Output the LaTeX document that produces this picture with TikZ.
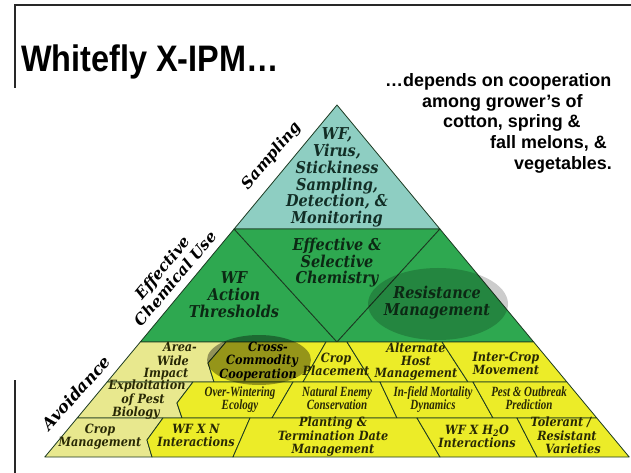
\documentclass[tikz,border=0pt]{standalone}
\usepackage{fontspec}
\usepackage{graphicx}
\setmainfont{DejaVu Serif}
\newfontfamily\sansf{Liberation Sans}
\newfontfamily\bkf{DejaVu Serif}
\newfontfamily\tmf{Liberation Serif}
\definecolor{teal1}{RGB}{142,206,194}
\definecolor{green1}{RGB}{46,168,80}
\definecolor{yel}{RGB}{236,236,40}
\definecolor{pale}{RGB}{232,232,142}
\definecolor{edgec}{RGB}{28,58,34}
\definecolor{ttxt}{RGB}{18,46,38}
\definecolor{gtxt}{RGB}{12,40,20}
\definecolor{ytxt}{RGB}{40,40,5}
\definecolor{framec}{RGB}{40,40,40}
\newcommand{\fsz}[2]{\fontsize{#1}{#2}\selectfont}
\newcommand{\tx}[2][1]{\scalebox{#1}[1.13]{\begin{tabular}{@{}c@{}}#2\end{tabular}}}
\begin{document}
\begin{tikzpicture}[x=1bp,y=-1bp,
  cell/.style={draw=edgec,line width=0.8bp,line join=round},
  bk/.style={font=\bkf\bfseries\itshape\fsz{14.5}{13}, inner sep=0pt},
  ybk/.style={font=\bkf\bfseries\itshape\fsz{11.3}{10.8}, inner sep=0pt, text=ytxt},
  ytm/.style={font=\tmf\bfseries\itshape\fsz{12.5}{9.5}, inner sep=0pt, text=ytxt},
  side/.style={font=\bkf\bfseries\itshape\fsz{15.5}{17}, align=center, inner sep=0pt, text=black},
  sub/.style={font=\sansf\bfseries\fsz{18}{18}, anchor=base west, inner sep=0pt},
  framel/.style={draw=framec,line width=1.3bp}
]
\useasboundingbox (0,0) rectangle (631,473);
% frame
\draw[framel] (15,88) -- (15,5) -- (631,5);
\draw[framel] (15,380) -- (15,473);
% title
\node[anchor=base west, inner sep=0pt, font=\sansf\bfseries\fsz{37}{37}] (title) at (21,72) {\scalebox{0.88}[1]{Whitefly X-IPM…}};
\node[sub] (s1) at (385,87) {…depends on cooperation};
\node[sub] (s2) at (422,108) {among grower’s of};
\node[sub] (s3) at (443,128) {cotton, spring \&};
\node[sub] (s4) at (490,149) {fall melons, \&};
\node[sub] (s5) at (514,170) {vegetables.};
% pyramid: teal
\draw[cell,fill=teal1] (337,105) -- (234.1,229) -- (439.9,229) -- cycle;
% green
\draw[cell,fill=green1] (234.1,229) -- (337,342) -- (140.3,342) -- cycle;
\draw[cell,fill=green1] (234.1,229) -- (439.9,229) -- (337,342) -- cycle;
\draw[cell,fill=green1] (439.9,229) -- (533.7,342) -- (337,342) -- cycle;
% row 1
\draw[cell,fill=pale] (140.3,342) -- (226,342) -- (208,363) -- (214,382) -- (107.1,382) -- cycle;
\draw[cell,fill=yel] (226,342) -- (326,342) -- (303,382) -- (214,382) -- (208,363) -- cycle;
\draw[cell,fill=yel] (326,342) -- (347,342) -- (372,382) -- (303,382) -- cycle;
\draw[cell,fill=yel] (347,342) -- (442,342) -- (468,382) -- (372,382) -- cycle;
\draw[cell,fill=yel] (442,342) -- (533.7,342) -- (566.9,382) -- (468,382) -- cycle;
% row 2
\draw[cell,fill=pale] (107.1,382) -- (193,382) -- (177,403) -- (182,418) -- (77.2,418) -- cycle;
\draw[cell,fill=yel] (193,382) -- (293,382) -- (272,418) -- (182,418) -- (177,403) -- cycle;
\draw[cell,fill=yel] (293,382) -- (380,382) -- (397,418) -- (272,418) -- cycle;
\draw[cell,fill=yel] (380,382) -- (473,382) -- (493,418) -- (397,418) -- cycle;
\draw[cell,fill=yel] (473,382) -- (566.9,382) -- (596.8,418) -- (493,418) -- cycle;
% row 3
\draw[cell,fill=pale] (77.2,418) -- (163,418) -- (147,440) -- (152,457) -- (44.8,457) -- cycle;
\draw[cell,fill=yel] (163,418) -- (250,418) -- (233,457) -- (152,457) -- (147,440) -- cycle;
\draw[cell,fill=yel] (250,418) -- (417,418) -- (440,457) -- (233,457) -- cycle;
\draw[cell,fill=yel] (417,418) -- (517,418) -- (537,457) -- (440,457) -- cycle;
\draw[cell,fill=yel] (517,418) -- (596.8,418) -- (629.2,457) -- (537,457) -- cycle;
% highlight ellipses
\fill[black,opacity=0.2] (438,304) ellipse [x radius=70, y radius=36];
\fill[black,opacity=0.37] (259,360) ellipse [x radius=52, y radius=25];
% texts
\node[bk,text=ttxt] (t1) at (337,178) {\tx{WF,\\Virus,\\Stickiness\\Sampling,\\Detection, \&\\Monitoring}};
\node[bk,text=gtxt] (g1) at (337,263) {\tx{Effective \&\\Selective\\Chemistry}};
\node[bk,text=gtxt] (g2) at (234,297) {\tx{WF\\Action\\Thresholds}};
\node[bk,text=gtxt] (g3) at (437,303) {\tx{Resistance\\Management}};
\node[ybk] (a1) at (173,362) {\tx{\hspace*{14bp}Area-\\Wide\\Impact\hspace*{14bp}}};
\node[ybk,text=black] (a2) at (262,362) {\tx{\hspace*{12bp}Cross-\\Commodity\\Cooperation\hspace*{8bp}}};
\node[ybk] (a3) at (336,366) {\tx{Crop\\Placement}};
\node[ybk] (a4) at (416,362) {\tx{Alternate\\Host\\Management}};
\node[ybk] (a5) at (506,365) {\tx{Inter-Crop\\Movement}};
\node[ybk] (b1) at (143,400) {\tx{\hspace*{8bp}Exploitation\\of Pest\\Biology\hspace*{14bp}}};
\node[ytm] (b2) at (240,400) {\tx[0.88]{Over-Wintering\\Ecology}};
\node[ytm] (b3) at (337,400) {\tx[0.88]{Natural Enemy\\Conservation}};
\node[ytm] (b4) at (433,400) {\tx[0.88]{In-field Mortality\\Dynamics}};
\node[ytm] (b5) at (529,400) {\tx[0.88]{Pest \& Outbreak\\Prediction}};
\node[ybk] (c1) at (100,437) {\tx{Crop\\Management}};
\node[ybk] (c2) at (196,437) {\tx{WF X N\\Interactions}};
\node[ybk] (c3) at (333,437) {\tx{Planting \&\\Termination Date\\Management}};
\node[ybk] (c4) at (477,438) {\tx{WF X H\textsubscript{2}O\\Interactions}};
\node[ybk] (c5) at (567,437) {\tx{Tolerant /\hspace*{12bp}\\Resistant\\\hspace*{12bp}Varieties}};
% side labels
\node[side,rotate=50] (l1) at (272,156) {Sampling};
\node[side,rotate=50] (l2) at (169,273) {Effective\\Chemical Use};
\node[side,rotate=48,font=\bkf\bfseries\itshape\fsz{16.5}{17}] (l3) at (76,393) {Avoidance};
\end{tikzpicture}
\end{document}
